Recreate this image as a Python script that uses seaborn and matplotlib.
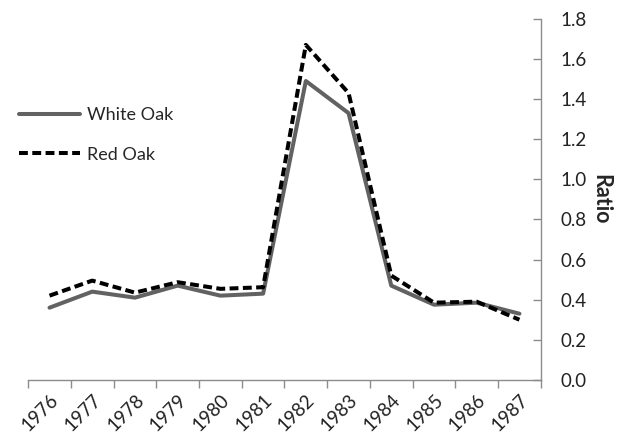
import pandas as pd
import matplotlib
matplotlib.use("Agg")
import matplotlib.pyplot as plt
import seaborn as sns

years = ["1976", "1977", "1978", "1979", "1980", "1981",
         "1982", "1983", "1984", "1985", "1986", "1987"]
white_oak = [0.36, 0.44, 0.41, 0.47, 0.42, 0.43, 1.49, 1.33, 0.47, 0.375, 0.385, 0.33]
red_oak = [0.42, 0.495, 0.435, 0.487, 0.454, 0.462, 1.67, 1.43, 0.52, 0.385, 0.39, 0.30]

df = pd.DataFrame({
    "year": years * 2,
    "ratio": white_oak + red_oak,
    "species": ["White Oak"] * len(years) + ["Red Oak"] * len(years),
})

sns.set_theme(style="white")
plt.rcParams["font.family"] = ["Lato", "DejaVu Sans"]

fig = plt.figure(figsize=(6.4, 4.48), dpi=100)
ax = fig.add_axes([0.044, 0.152, 0.801, 0.806])

sns.lineplot(data=df, x="year", y="ratio", hue="species", style="species",
             palette={"White Oak": "#626262", "Red Oak": "#000000"},
             dashes={"White Oak": "", "Red Oak": (2.2, 1.1)},
             linewidth=2.9, sort=False, ax=ax)

ax.set_xlim(-0.5, len(years) - 0.5)
ax.set_ylim(0, 1.8)
ax.set_yticks([i * 0.2 for i in range(10)])
ax.set_yticklabels([f"{i * 0.2:.1f}" for i in range(10)])

ax.yaxis.tick_right()
ax.yaxis.set_label_position("right")
for side in ["top", "left"]:
    ax.spines[side].set_visible(False)
for side in ["right", "bottom"]:
    ax.spines[side].set_color("#8c8c8c")
    ax.spines[side].set_linewidth(1.0)

# x ticks sit on category boundaries, like the Excel original
ax.set_xticks([i + 0.5 for i in range(-1, len(years))], minor=True)
ax.set_xticks(range(len(years)))
ax.set_xticklabels(years, rotation=45, ha="right", rotation_mode="anchor", fontsize=13.5, color="#222222")
ax.tick_params(axis="x", which="major", length=0, pad=8)
ax.tick_params(axis="x", which="minor", length=6, color="#8c8c8c", width=1, direction="out", bottom=True)
ax.tick_params(axis="y", length=6, color="#8c8c8c", width=1, direction="in", labelsize=13.5,
               labelcolor="#222222", pad=14)

ax.set_xlabel("")
ax.set_ylabel("Ratio", fontsize=15.5, fontweight="bold", rotation=-90, labelpad=18)

leg = ax.legend(loc="upper left", bbox_to_anchor=(-0.05, 0.8), frameon=False, fontsize=13,
                handlelength=3.4, handletextpad=0.4, labelspacing=1.3)
leg.set_title(None)

fig.savefig("out.png", dpi=100)
